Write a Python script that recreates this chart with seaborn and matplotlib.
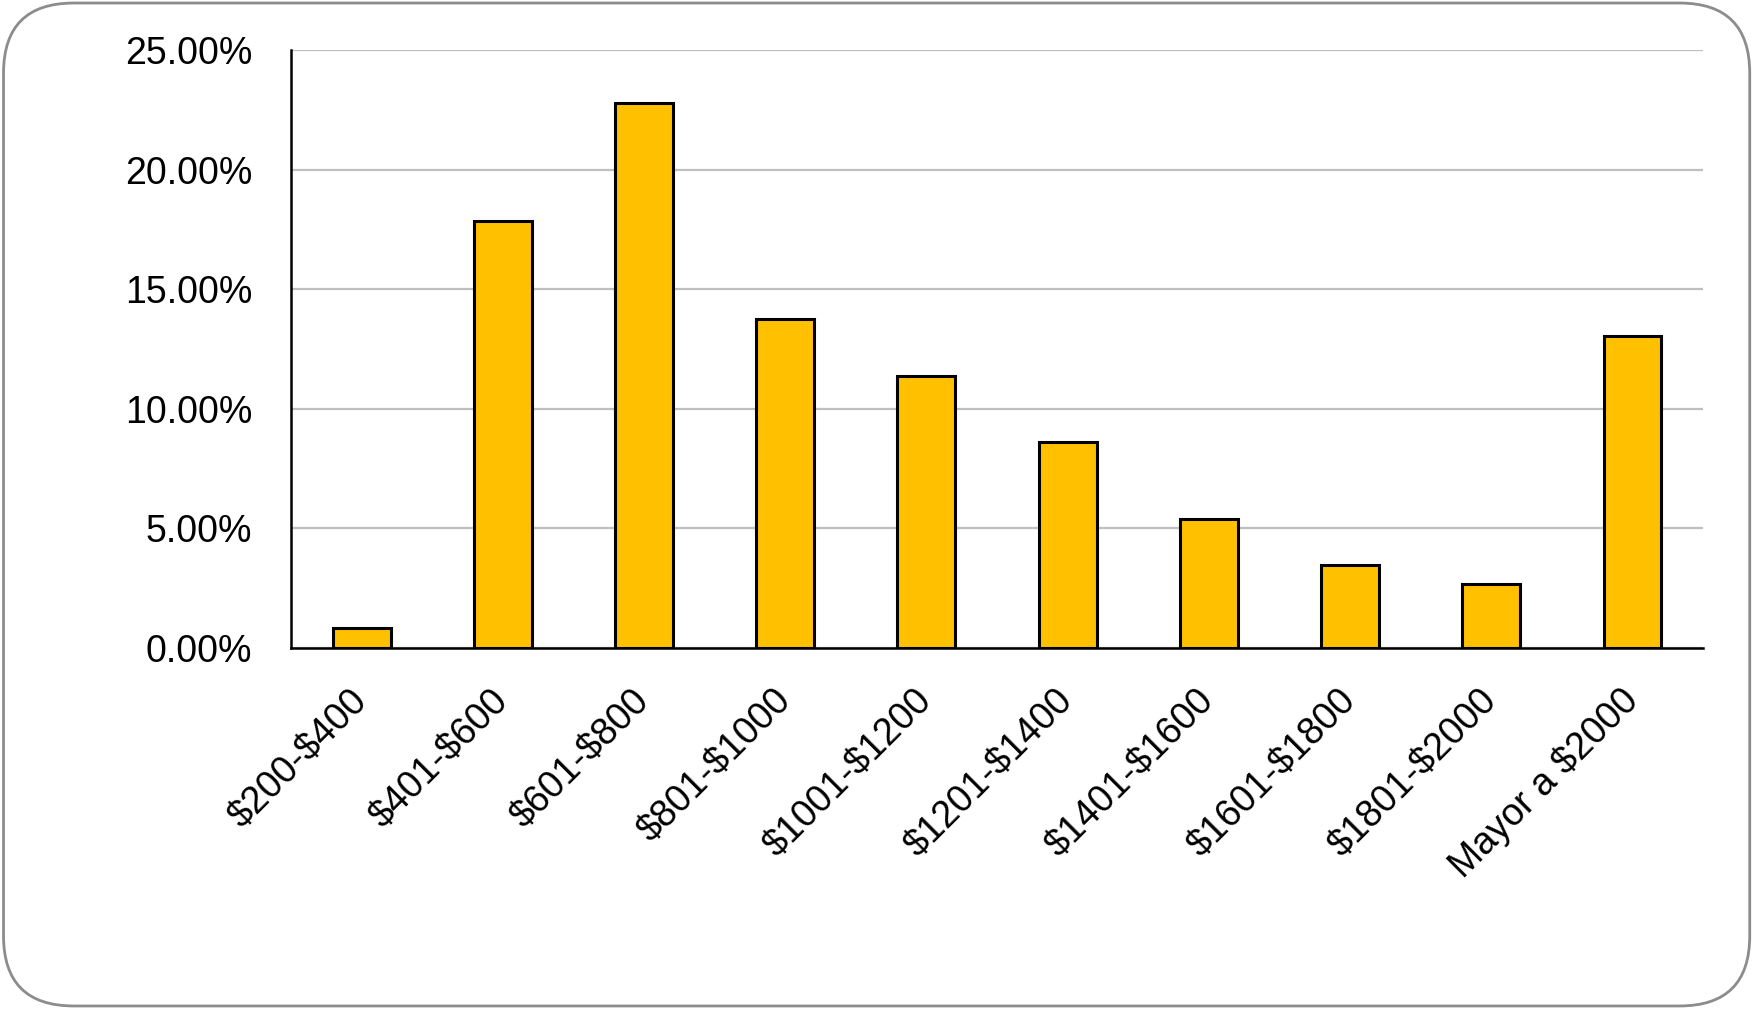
import numpy as np
import pandas as pd
import seaborn as sns
import matplotlib.pyplot as plt
from matplotlib.patches import FancyBboxPatch
from matplotlib.ticker import FuncFormatter

# Data
categories = ['$200-$400', '$401-$600', '$601-$800', '$801-$1000', '$1001-$1200',
              '$1201-$1400', '$1401-$1600', '$1601-$1800', '$1801-$2000', 'Mayor a $2000']
shares = [0.84, 17.84, 22.80, 13.76, 11.38, 8.61, 5.38, 3.46, 2.67, 13.06]
y_ticks = [0, 5, 10, 15, 20, 25]

df = pd.DataFrame({'rango': categories, 'pct': shares})

sns.set_style('white')
plt.rcParams['font.family'] = ['Liberation Sans', 'DejaVu Sans']
plt.rcParams['text.color'] = 'black'
plt.rcParams['xtick.color'] = 'black'
plt.rcParams['ytick.color'] = 'black'

fig = plt.figure(figsize=(17.55, 10.09), dpi=100)
ax = fig.add_axes([0.1658, 0.3578, 0.8046, 0.5926])

sns.barplot(data=df, x='rango', y='pct', color='#FFC000', edgecolor='black',
            linewidth=2.2, width=0.41, saturation=1, ax=ax, zorder=3)

ax.set_ylim(0, 25)
ax.set_xlim(-0.5, len(categories) - 0.5)
ax.set_yticks(y_ticks)
ax.yaxis.set_major_formatter(FuncFormatter(lambda v, p: f'{v:.2f}%'))
ax.grid(axis='y', color='#BFBFBF', linewidth=1.6, zorder=0)
ax.set_axisbelow(True)

for s in ['top', 'right']:
    ax.spines[s].set_visible(False)
ax.spines['left'].set_color('black')
ax.spines['left'].set_linewidth(1.8)
ax.spines['bottom'].set_color('black')
ax.spines['bottom'].set_linewidth(1.8)
ax.spines['bottom'].set_zorder(4)

ax.set_xlabel('')
ax.set_ylabel('')
ax.tick_params(axis='y', length=0, pad=28, labelsize=27, labelcolor='black')
ax.tick_params(axis='x', length=0, pad=34, labelsize=27, labelcolor='black')
ax.set_xticks(range(len(categories)))
ax.set_xticklabels([c.replace('$', r'\$') for c in categories], rotation=45,
                   ha='right', va='center', rotation_mode='anchor')

# rounded outer frame
frame = FancyBboxPatch((0.002, 0.003), 0.995, 0.994,
                       boxstyle='round,pad=0,rounding_size=0.04',
                       transform=fig.transFigure, fill=False,
                       edgecolor='#8C8C8C', linewidth=2, mutation_aspect=1755 / 1009)
fig.patches.append(frame)

fig.savefig('out.png', dpi=100)
